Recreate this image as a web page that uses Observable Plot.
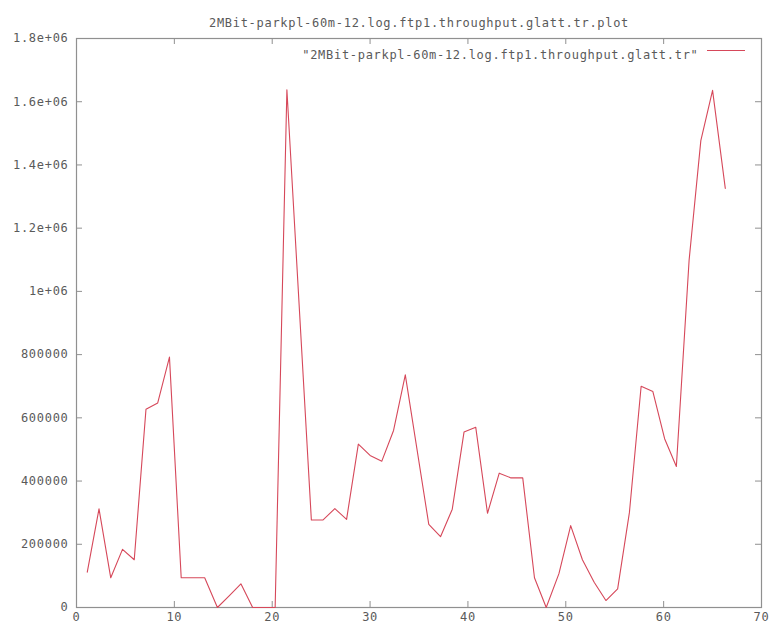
<!DOCTYPE html>
<html>
<head>
<meta charset="utf-8">
<script src="https://cdn.jsdelivr.net/npm/d3@7"></script>
<script src="https://cdn.jsdelivr.net/npm/@observablehq/plot@0.6"></script>
<style>
  html, body { margin: 0; padding: 0; background: #fff; }
  svg text { letter-spacing: 0.7px; }
</style>
</head>
<body>
<div id="chart"></div>
<script>
const titleText = "2MBit-parkpl-60m-12.log.ftp1.throughput.glatt.tr.plot";
const seriesName = "\"2MBit-parkpl-60m-12.log.ftp1.throughput.glatt.tr\"";

const times = [1.1, 2.3, 3.5, 4.7, 5.9, 7.1, 8.3, 9.5, 10.7, 11.9, 13.1, 14.4, 15.6, 16.8, 18.0, 19.2, 20.3, 21.5,
  24.0, 25.2, 26.4, 27.6, 28.8, 30.0, 31.2, 32.4, 33.6, 36.0, 37.2, 38.4, 39.6, 40.8, 42.0, 43.2, 44.4, 45.6,
  46.8, 48.0, 49.3, 50.5, 51.7, 52.9, 54.1, 55.3, 56.5, 57.7, 58.9, 60.1, 61.3, 62.6, 63.8, 65.0, 66.3];
const throughput = [112000, 312000, 94000, 184000, 151000, 627000, 647000, 792000, 94000, 94000, 94000, 0, 37000, 75000, 0, 0, 0, 1638000,
  277000, 277000, 313000, 279000, 517000, 481000, 463000, 560000, 736000, 263000, 224000, 311000, 555000, 570000, 298000, 425000, 410000, 410000,
  94000, 0, 107000, 259000, 151000, 80000, 22000, 59000, 300000, 700000, 683000, 534000, 446000, 1098000, 1477000, 1636000, 1326000];

const xTicks = [0, 10, 20, 30, 40, 50, 60, 70];
const yTicks = [0, 200000, 400000, 600000, 800000, 1000000, 1200000, 1400000, 1600000, 1800000];

const data = times.map((t, i) => ({t, v: throughput[i]}));
const yFmt = v => v < 1e6 ? String(v) : (v / 1e6) + "e+06";

const W = 769, H = 623;
const mL = 76, mR = 8, mT = 38, mB = 16;
const fw = W - mL - mR, fh = H - mT - mB;
const tick = 6;
const grey = "#909090", txt = "#5a5a5a";
const lineColor = "#d6485a";
const font = "DejaVu Sans Mono, Liberation Mono, monospace";

const chart = Plot.plot({
  width: W, height: H,
  marginLeft: mL, marginRight: mR, marginTop: mT, marginBottom: mB,
  style: {fontFamily: font, fontSize: "12px", color: txt, background: "#fff"},
  x: {domain: [0, 70]},
  y: {domain: [0, 1800000]},
  marks: [
    Plot.frame({stroke: grey, strokeWidth: 1.2}),
    Plot.tickX(xTicks, {x: d => d, stroke: grey, insetTop: fh - tick}),
    Plot.tickX(xTicks, {x: d => d, stroke: grey, insetBottom: fh - tick}),
    Plot.tickY(yTicks, {y: d => d, stroke: grey, insetRight: fw - tick}),
    Plot.tickY(yTicks, {y: d => d, stroke: grey, insetLeft: fw - tick}),
    Plot.axisX({ticks: xTicks, tickSize: 0, tickPadding: 5, fill: txt, fontSize: 12, label: null}),
    Plot.axisY({ticks: yTicks, tickSize: 0, tickPadding: 8, tickFormat: yFmt, fill: txt, fontSize: 12, label: null}),
    Plot.line(data, {x: "t", y: "v", stroke: lineColor, strokeWidth: 1.1}),
    Plot.text([titleText], {frameAnchor: "top", dy: -20, fill: txt, fontSize: 12}),
    Plot.text([seriesName], {frameAnchor: "top-right", dx: -63, dy: 12, textAnchor: "end", fill: txt, fontSize: 12})
  ]
});

// legend swatch line
d3.select(chart).append("line")
  .attr("x1", W - mR - 54).attr("x2", W - mR - 16)
  .attr("y1", mT + 12.5).attr("y2", mT + 12.5)
  .attr("stroke", lineColor).attr("stroke-width", 1.1);

document.getElementById("chart").appendChild(chart);
</script>
</body>
</html>
